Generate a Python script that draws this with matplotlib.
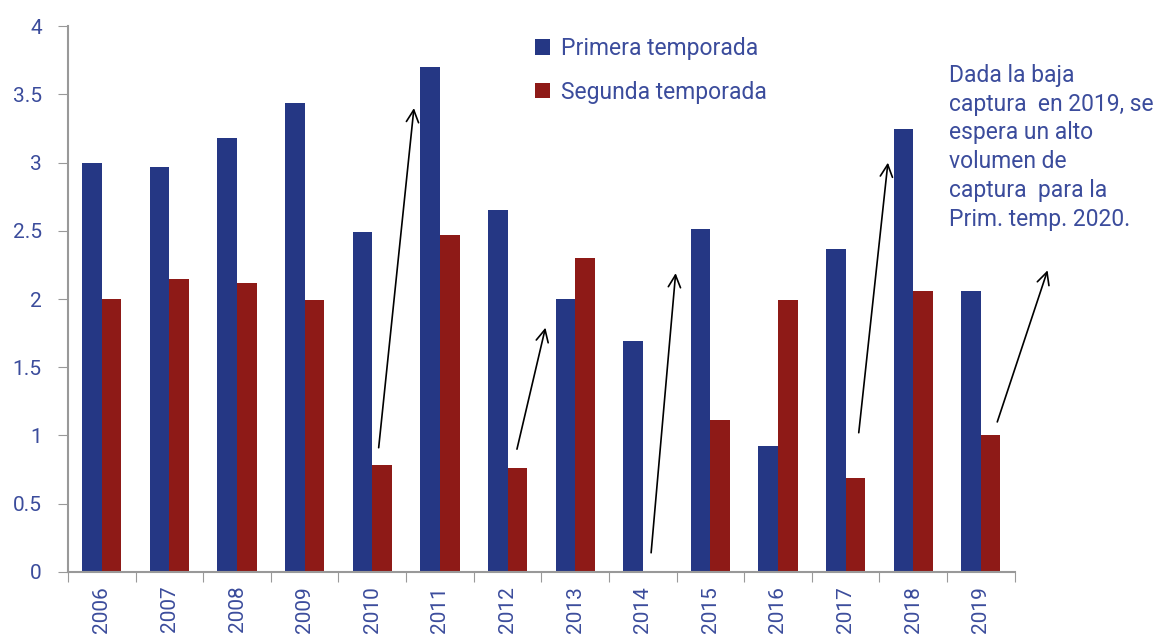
import numpy as np
import matplotlib.pyplot as plt

# Capturas por temporada (millones de toneladas)
years = ['2006', '2007', '2008', '2009', '2010', '2011', '2012',
         '2013', '2014', '2015', '2016', '2017', '2018', '2019']
primera = [3.00, 2.97, 3.18, 3.44, 2.49, 3.70, 2.65,
           2.00, 1.69, 2.51, 0.92, 2.37, 3.25, 2.06]
segunda = [2.00, 2.15, 2.12, 1.99, 0.78, 2.47, 0.76,
           2.30, 0.00, 1.11, 1.99, 0.69, 2.06, 1.00]

note = ('Dada la baja\ncaptura  en 2019, se\nespera un alto\n'
        'volumen de\ncaptura  para la\nPrim. temp. 2020.')

blue = '#253784'
red = '#8e1a17'
txt = '#3b4c9c'
plt.rcParams['font.family'] = ['Roboto', 'DejaVu Sans']

fig = plt.figure(figsize=(11.73, 6.39), dpi=100)
ax = fig.add_axes([0.058, 0.105, 0.807, 0.854])

x = np.arange(len(years))
w = 0.29
ax.bar(x - w / 2, primera, w, color=blue, label='Primera temporada')
ax.bar(x + w / 2, segunda, w, color=red, label='Segunda temporada')

ax.set_xlim(-0.5, len(years) - 0.5)
ax.set_ylim(0, 4)
ax.set_yticks(np.arange(0, 4.01, 0.5))
ax.set_yticklabels(['0', '0.5', '1', '1.5', '2', '2.5', '3', '3.5', '4'])

# ticks on category borders, labels centred
ax.set_xticks(np.arange(-0.5, len(years), 1))
ax.set_xticklabels([])
ax.set_xticks(x, minor=True)
ax.set_xticklabels(years, minor=True, rotation=90)
ax.tick_params(axis='x', which='major', length=7, color='#999999')
ax.tick_params(axis='x', which='minor', length=0, pad=10,
               labelsize=15, labelcolor=txt)
ax.tick_params(axis='y', length=7, color='#999999', labelsize=15,
               labelcolor=txt, pad=12)

for s in ['top', 'right']:
    ax.spines[s].set_visible(False)
for s in ['left', 'bottom']:
    ax.spines[s].set_color('#999999')
    ax.spines[s].set_linewidth(1.5)

leg = ax.legend(loc='upper left', bbox_to_anchor=(0.472, 1.018), frameon=False,
                fontsize=16.5, labelspacing=0.9, handlelength=0.65,
                handleheight=0.65, handletextpad=0.45)
for t in leg.get_texts():
    t.set_color(txt)

# flechas: baja segunda temporada -> alta primera temporada siguiente
arrows = [((4.09, 0.89), (4.62, 3.42)),
          ((6.13, 0.88), (6.57, 1.81)),
          ((8.12, 0.12), (8.49, 2.21)),
          ((11.19, 1.00), (11.63, 3.02)),
          ((13.23, 1.08), (14.00, 2.23))]
for start, end in arrows:
    ax.annotate('', xy=end, xytext=start, annotation_clip=False,
                arrowprops=dict(arrowstyle='->', color='black', lw=1.2,
                                mutation_scale=22))

fig.text(0.809, 0.9, note, fontsize=16.5, color=txt, va='top',
         ha='left', linespacing=1.32)

fig.savefig('out.png', dpi=100)
